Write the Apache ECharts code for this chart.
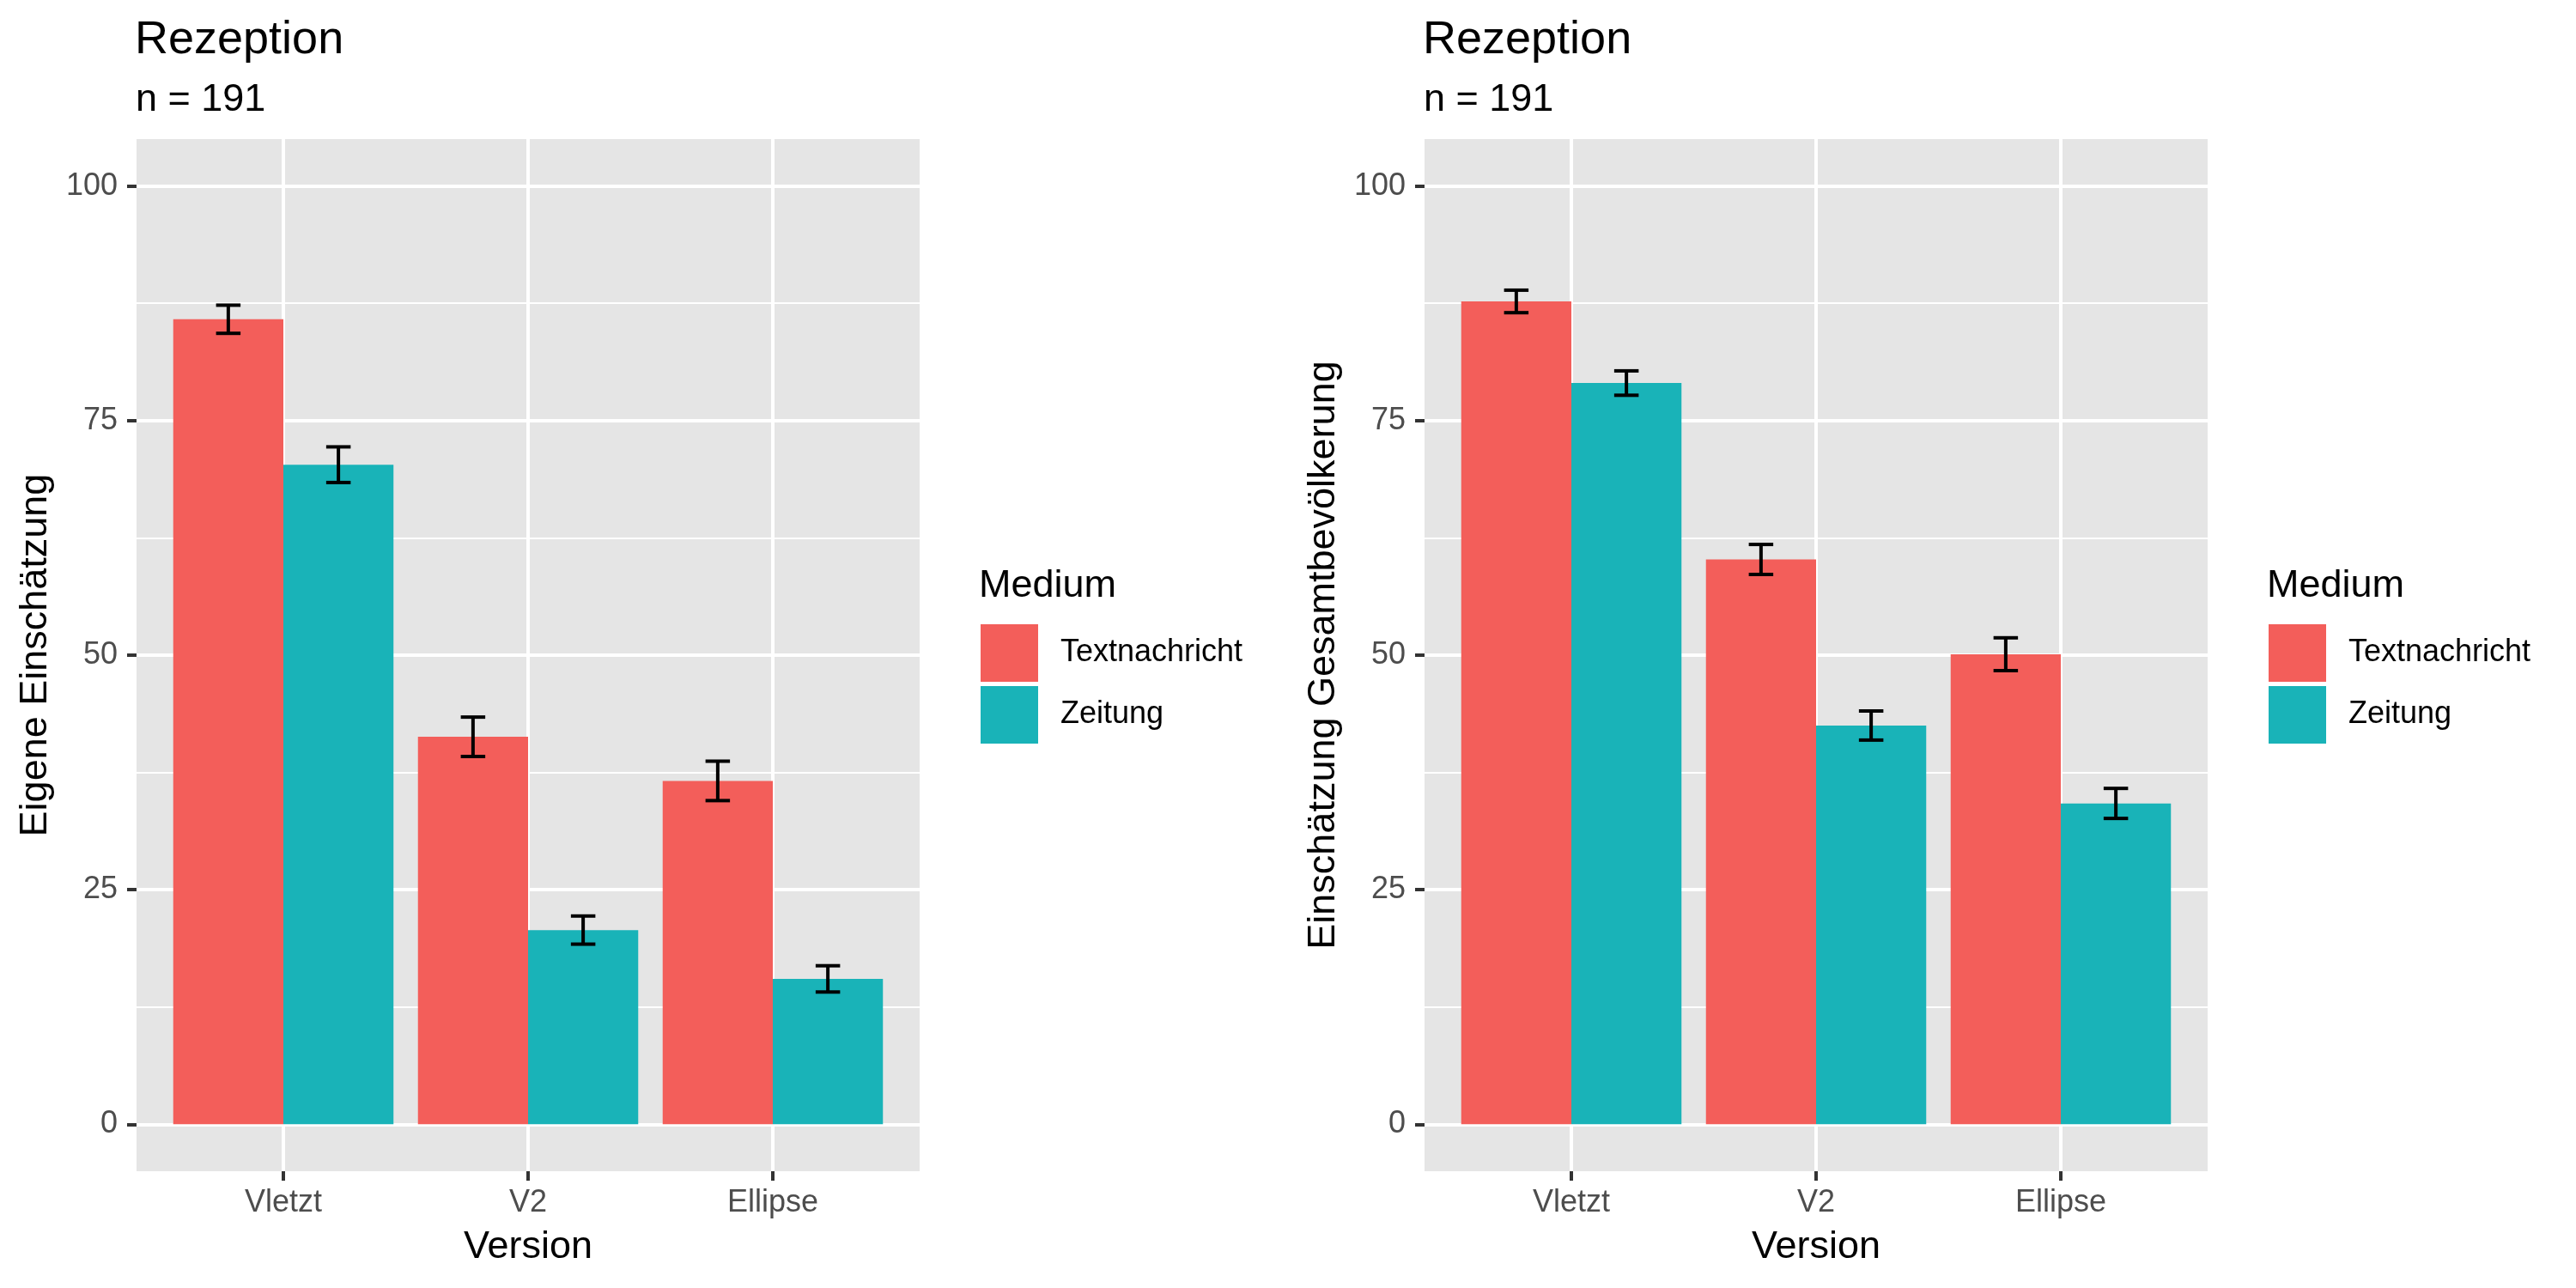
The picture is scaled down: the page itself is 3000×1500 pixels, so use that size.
<!DOCTYPE html>
<html><head><meta charset="utf-8">
<script src="https://cdn.jsdelivr.net/npm/echarts@6/dist/echarts.min.js"></script>
<style>html,body{margin:0;padding:0;background:#fff}#c{width:3000px;height:1500px}</style>
</head><body><div id="c"></div>
<script>
// ---- data ----
const versions = ['Vletzt', 'V2', 'Ellipse'];
const media = ['Textnachricht', 'Zeitung'];
const yTicks = [0, 25, 50, 75, 100];
const yMinorTicks = [12.5, 37.5, 62.5, 87.5];
const leftText = [85.8, 41.3, 36.6];
const leftTextSE = [1.5, 2.1, 2.1];
const leftZeitung = [70.3, 20.7, 15.5];
const leftZeitungSE = [1.9, 1.5, 1.4];
const rightText = [87.7, 60.2, 50.1];
const rightTextSE = [1.2, 1.6, 1.75];
const rightZeitung = [79.0, 42.5, 34.2];
const rightZeitungSE = [1.3, 1.55, 1.6];
const titleText = 'Rezeption';
const subtitleText = 'n = 191';
const yNames = ['Eigene Einschätzung', 'Einschätzung Gesamtbevölkerung'];
const xName = 'Version';
const legendTitle = 'Medium';

// ---- styling / layout ----
const FONT = 'Liberation Sans, Arial, sans-serif';
const colors = ['#F35E5A', '#19B3B8'];
const panels = [
  { off: 0, means: [leftText, leftZeitung], se: [leftTextSE, leftZeitungSE] },
  { off: 1500, means: [rightText, rightZeitung], se: [rightTextSE, rightZeitungSE] }
];
const BAR_W = 0.45;       // each dodged bar width (in category units)
const CAP_HALF = 0.05;    // half width of error bar caps
const xPos = versions.map((v, i) => i + 1);

function barItem(m) {
  return function (params, api) {
    const x = api.value(0), v = api.value(1);
    const xl = m === 0 ? x - BAR_W : x;
    const p0 = api.coord([xl, v]);
    const p1 = api.coord([xl + BAR_W, 0]);
    return {
      type: 'rect',
      shape: { x: p0[0], y: p0[1], width: p1[0] - p0[0], height: p1[1] - p0[1] },
      style: { fill: api.visual('color') }
    };
  };
}
function errItem(m) {
  return function (params, api) {
    const xc = api.value(0) + (m === 0 ? -BAR_W / 2 : BAR_W / 2);
    const lo = api.value(1), hi = api.value(2);
    const a = api.coord([xc, lo]), b = api.coord([xc, hi]);
    const l = api.coord([xc - CAP_HALF, lo])[0], r = api.coord([xc + CAP_HALF, lo])[0];
    const st = { stroke: '#000', lineWidth: 4 };
    return {
      type: 'group',
      children: [
        { type: 'line', shape: { x1: a[0], y1: a[1], x2: b[0], y2: b[1] }, style: st },
        { type: 'line', shape: { x1: l, y1: a[1], x2: r, y2: a[1] }, style: st },
        { type: 'line', shape: { x1: l, y1: b[1], x2: r, y2: b[1] }, style: st }
      ]
    };
  };
}

const option = {
  animation: false,
  backgroundColor: '#fff',
  textStyle: { fontFamily: FONT },
  title: [], grid: [], xAxis: [], yAxis: [], series: [], legend: []
};

panels.forEach((p, pi) => {
  option.title.push(
    { text: titleText, left: 157 + p.off, top: 20, padding: 0,
      textStyle: { fontSize: 54, fontWeight: 'normal', color: '#000', fontFamily: FONT } },
    { text: subtitleText, left: 158 + p.off, top: 94, padding: 0,
      textStyle: { fontSize: 45, fontWeight: 'normal', color: '#000', fontFamily: FONT } },
    { text: legendTitle, left: 1140 + p.off, top: 660, padding: 0,
      textStyle: { fontSize: 45, fontWeight: 'normal', color: '#000', fontFamily: FONT } }
  );
  option.grid.push({
    left: 159 + p.off, top: 162, width: 912, height: 1202,
    show: true, backgroundColor: '#E5E5E5', borderWidth: 0, containLabel: false
  });
  option.xAxis.push({
    type: 'value', gridIndex: pi, min: 0.4, max: 3.6, position: 'bottom',
    axisLine: { show: false, onZero: false },
    axisTick: { show: true, customValues: xPos, length: 11, lineStyle: { color: '#333', width: 4 } },
    axisLabel: { customValues: xPos, formatter: v => versions[Math.round(v) - 1],
      fontSize: 36, color: '#4D4D4D', margin: 19, fontFamily: FONT },
    splitLine: { show: true, lineStyle: { color: '#fff', width: 4 } },
    name: xName, nameLocation: 'middle', nameGap: 66,
    nameTextStyle: { fontSize: 45, color: '#000', fontFamily: FONT }
  });
});
panels.forEach((p, pi) => {
  option.yAxis.push({
    type: 'value', gridIndex: pi, min: -5, max: 105, position: 'left',
    axisLine: { show: false, onZero: false },
    axisTick: { show: true, customValues: yTicks, length: 11, lineStyle: { color: '#333', width: 4 } },
    axisLabel: { customValues: yTicks, fontSize: 36, color: '#4D4D4D', margin: 22, fontFamily: FONT },
    splitLine: { show: true, lineStyle: { color: '#fff', width: 4 } },
    name: yNames[pi], nameLocation: 'middle', nameGap: 95,
    nameTextStyle: { fontSize: 45, color: '#000', fontFamily: FONT }
  });
});
panels.forEach((p, pi) => {
  option.yAxis.push({
    type: 'value', gridIndex: pi, min: -5, max: 105, position: 'left',
    axisLine: { show: false, onZero: false },
    axisTick: { show: false, customValues: yMinorTicks },
    axisLabel: { show: false, customValues: yMinorTicks },
    splitLine: { show: true, lineStyle: { color: '#fff', width: 2 } }
  });
});
panels.forEach((p, pi) => {
  media.forEach((m, mi) => {
    option.series.push({
      type: 'custom', name: m, xAxisIndex: pi, yAxisIndex: pi,
      itemStyle: { color: colors[mi] },
      encode: { x: 0, y: 1 },
      data: versions.map((v, i) => [xPos[i], p.means[mi][i]]),
      renderItem: barItem(mi), z: 2
    });
  });
  media.forEach((m, mi) => {
    option.series.push({
      type: 'custom', name: 'se_' + m, xAxisIndex: pi, yAxisIndex: pi,
      encode: { x: 0, y: [1, 2] },
      data: versions.map((v, i) => [xPos[i], p.means[mi][i] - p.se[mi][i], p.means[mi][i] + p.se[mi][i]]),
      renderItem: errItem(mi), z: 3
    });
  });
  option.legend.push({
    data: media, left: 1142 + p.off, top: 727, orient: 'vertical',
    itemWidth: 67, itemHeight: 67, itemGap: 5, icon: 'rect', selectedMode: false,
    padding: 0,
    textStyle: { fontSize: 36, color: '#000', fontFamily: FONT, padding: [4, 0, 0, 21] }
  });
});

const chart = echarts.init(document.getElementById('c'), null, { renderer: 'canvas' });
chart.setOption(option);
</script>
</body></html>
